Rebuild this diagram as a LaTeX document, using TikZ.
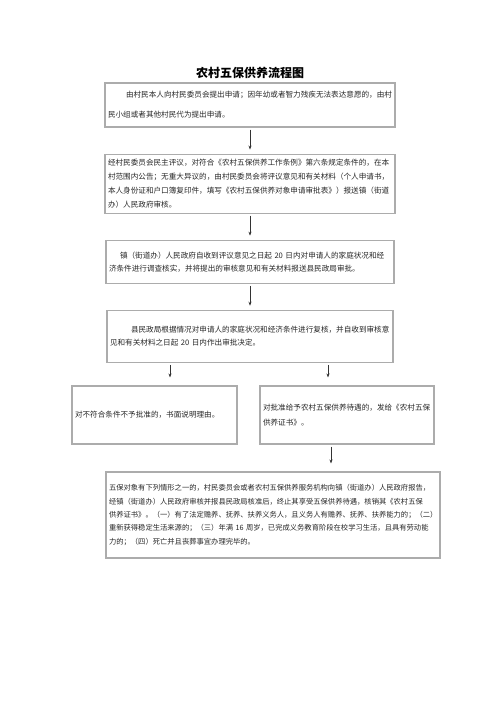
\documentclass[tikz,border=0pt]{standalone}
\usepackage{fontspec}
\setmainfont{Noto Sans CJK SC}
\usetikzlibrary{arrows.meta}
\usetikzlibrary{positioning}

\begin{document}
\begin{tikzpicture}[x=1pt, y=-1pt, every node/.style={rectangle, draw=gray!65, line width=1.1pt, align=left, inner xsep=3pt, inner ysep=0pt, text=black!85}, flow/.style={-{Stealth[length=4pt, width=3pt]}, line width=0.6pt, black!80, shorten <=2pt, shorten >=4pt}, node distance=26pt]

\useasboundingbox (0,0) rectangle (500,707);

\node[draw=none, font=\fontsize{12}{14}\selectfont\bfseries, text=black] (title) at (250,73) {农村五保供养流程图};

\node[minimum width=290pt, minimum height=44pt, text width=284pt, font=\fontsize{7.6}{20}\selectfont] (apply) at (250,105) {\hspace*{18pt}由村民本人向村民委员会提出申请；因年幼或者智力残疾无法表达意愿的，由村\\民小组或者其他村民代为提出申请。};
\node[minimum width=290pt, minimum height=59pt, text width=284pt, font=\fontsize{7.6}{14}\selectfont, below=of apply] (review) {经村民委员会民主评议，对符合《农村五保供养工作条例》第六条规定条件的，在本\\村范围内公告；无重大异议的，由村民委员会将评议意见和有关材料（个人申请书，\\本人身份证和户口簿复印件，填写《农村五保供养对象申请审批表》）报送镇（街道\\办）人民政府审核。};
\node[minimum width=288pt, minimum height=43pt, text width=282pt, font=\fontsize{7.6}{13}\selectfont, below=of review] (survey) {\hspace*{11pt}镇（街道办）人民政府自收到评议意见之日起~20~日内对申请人的家庭状况和经\\济条件进行调查核实，并将提出的审核意见和有关材料报送县民政局审批。};
\node[minimum width=286pt, minimum height=52pt, text width=280pt, font=\fontsize{7.6}{13}\selectfont, below=of survey] (verify) {\hspace*{21pt}县民政局根据情况对申请人的家庭状况和经济条件进行复核，并自收到审核意\\见和有关材料之日起~20~日内作出审批决定。};

\node[minimum width=165pt, minimum height=58pt, text width=159pt, font=\fontsize{7.6}{15}\selectfont] (reject) at (154.5,415) {对不符合条件不予批准的，书面说明理由。};
\node[minimum width=174pt, minimum height=58pt, text width=168pt, font=\fontsize{7.6}{15}\selectfont] (grant) at (347,415) {对批准给予农村五保供养待遇的，发给《农村五保\\供养证书》。};

\node[minimum width=334pt, minimum height=86pt, text width=328pt, font=\fontsize{7.3}{13.3}\selectfont] (terminate) at (273,515) {五保对象有下列情形之一的，村民委员会或者农村五保供养服务机构向镇（街道办）人民政府报告，\\经镇（街道办）人民政府审核并报县民政局核准后，终止其享受五保供养待遇，核销其《农村五保\\供养证书》。（一）有了法定赡养、抚养、扶养义务人，且义务人有赡养、抚养、扶养能力的；（二）\\重新获得稳定生活来源的；（三）年满~16~周岁，已完成义务教育阶段在校学习生活，且具有劳动能\\力的；（四）死亡并且丧葬事宜办理完毕的。};

\draw[flow] (apply.south) -- (review.north);
\draw[flow] (review.south) -- (survey.north);
\draw[flow] (survey.south) -- (verify.north);
\draw[flow, shorten >=8pt] ([xshift=-80pt]verify.south) -- ([xshift=-80pt]verify.south |- reject.north);
\draw[flow, shorten >=8pt] ([xshift=78pt]verify.south) -- ([xshift=78pt]verify.south |- grant.north);
\draw[flow, shorten >=8pt] ([xshift=-16pt]grant.south) -- ([xshift=-16pt]grant.south |- terminate.north);

\end{tikzpicture}
\end{document}
